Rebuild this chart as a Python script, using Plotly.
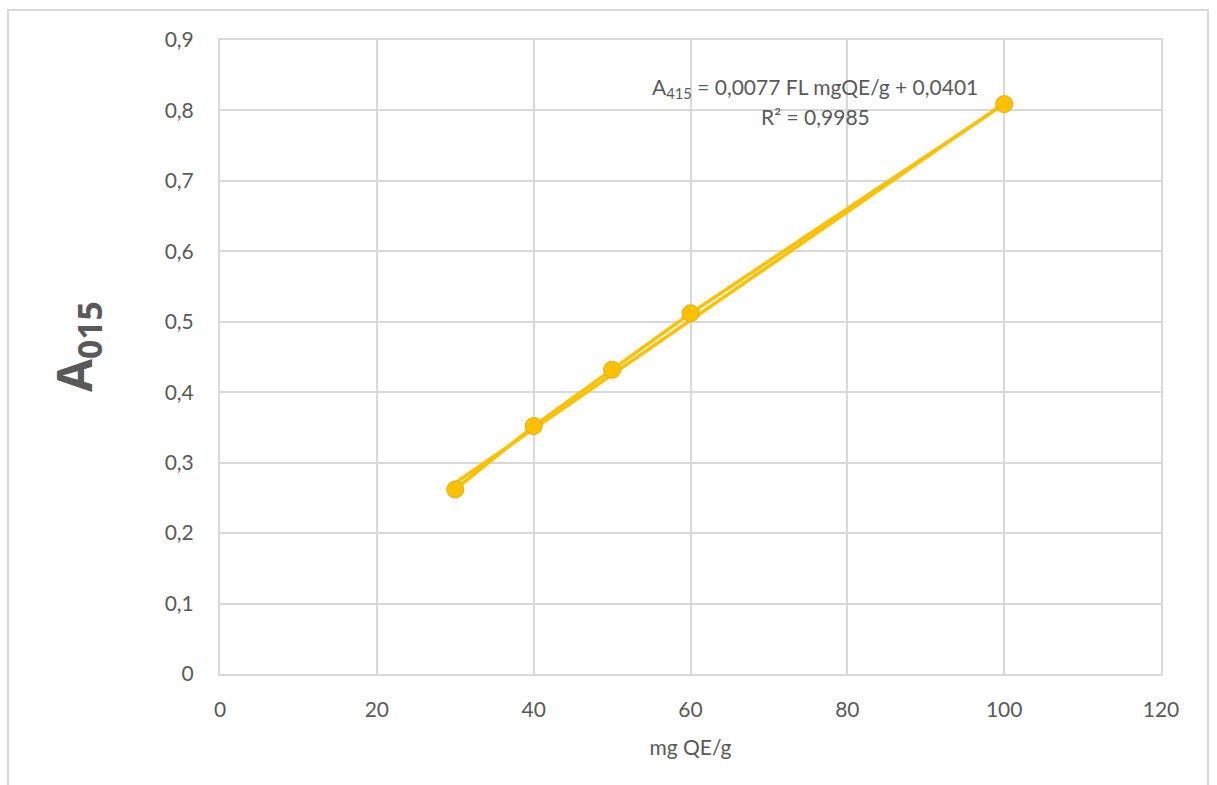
import plotly.graph_objects as go

# Data
conc = [30, 40, 50, 60, 100]          # mg QE/g
absorb = [0.262, 0.352, 0.432, 0.512, 0.809]
slope = 0.0077
intercept = 0.0401
y_ticks = [0, 0.1, 0.2, 0.3, 0.4, 0.5, 0.6, 0.7, 0.8, 0.9]
y_labels = ["0", "0,1", "0,2", "0,3", "0,4", "0,5", "0,6", "0,7", "0,8", "0,9"]
x_ticks = [0, 20, 40, 60, 80, 100, 120]

gold = "#FFC000"
grid = "#D9D9D9"
txt = "#595959"
FONT = "Lato"

trend_x = [min(conc), max(conc)]
trend_y = [slope * v + intercept for v in trend_x]

fig = go.Figure()
fig.add_trace(go.Scatter(x=trend_x, y=trend_y, mode="lines",
                         line=dict(color=gold, width=3.5), showlegend=False, hoverinfo="skip"))
fig.add_trace(go.Scatter(x=conc, y=absorb, mode="lines+markers",
                         line=dict(color=gold, width=3.5),
                         marker=dict(color=gold, size=17, line=dict(color="#E6AC00", width=1)),
                         showlegend=False))

fig.update_layout(
    width=1217, height=785,
    margin=dict(l=220, r=56, t=40, b=111),
    paper_bgcolor="white", plot_bgcolor="white",
    font=dict(family=FONT, color=txt, size=21),
    xaxis=dict(range=[0, 120], tickvals=x_ticks, showgrid=True, gridcolor=grid, gridwidth=2,
               showline=True, mirror=True, linecolor=grid, linewidth=2, zeroline=False,
               ticks="", ticklabelstandoff=16, tickfont=dict(size=21, color=txt),
               title=dict(text="mg QE/g", font=dict(size=21, color=txt), standoff=20)),
    yaxis=dict(range=[0, 0.9], tickvals=y_ticks, ticktext=y_labels, showgrid=True,
               gridcolor=grid, gridwidth=2, showline=True, mirror=True, linecolor=grid,
               linewidth=2, zeroline=False, ticks="", ticklabelstandoff=20,
               tickfont=dict(size=21, color=txt)),
    showlegend=False,
)

fig.add_annotation(xref="paper", yref="paper", x=(76 - 220) / 941, y=(674 - 347) / 634,
                   text="A<sub>015</sub>", textangle=-90, showarrow=False,
                   font=dict(size=48, color=txt, family="Open Sans", weight="bold"),
                   xanchor="center", yanchor="middle")

fig.add_annotation(xref="paper", yref="paper", x=(815 - 220) / 941, y=(674 - 88) / 634,
                   text="A<sub>415</sub> = 0,0077 FL mgQE/g + 0,0401", showarrow=False,
                   font=dict(size=21, color=txt, family=FONT), xanchor="center", yanchor="middle")
fig.add_annotation(xref="paper", yref="paper", x=(815 - 220) / 941, y=(674 - 116) / 634,
                   text="R² = 0,9985", showarrow=False,
                   font=dict(size=21, color=txt, family=FONT), xanchor="center", yanchor="middle")

# outer chart border
fig.add_shape(type="rect", xref="paper", yref="paper",
              x0=(8 - 220) / 941, x1=(1208 - 220) / 941,
              y0=(674 - 800) / 634, y1=(674 - 10) / 634,
              line=dict(color=grid, width=2), fillcolor="rgba(0,0,0,0)", layer="below")

fig.write_html("out.html")
